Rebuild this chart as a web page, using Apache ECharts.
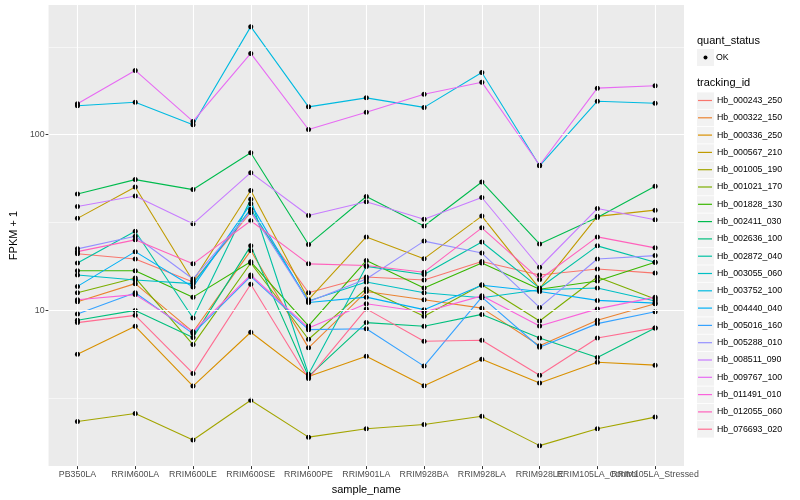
<!DOCTYPE html>
<html><head><meta charset="utf-8">
<script src="https://cdn.jsdelivr.net/npm/echarts@6/dist/echarts.min.js"></script>
<style>html,body{margin:0;padding:0;background:#fff}#c{width:800px;height:500px}</style>
</head><body><div id="c"></div>
<script>
const categories = ['PB350LA','RRIM600LA','RRIM600LE','RRIM600SE','RRIM600PE','RRIM901LA','RRIM928BA','RRIM928LA','RRIM928LE','RRIM105LA_Control','RRIM105LA_Stressed'];
const trackingIds = ['Hb_000243_250','Hb_000322_150','Hb_000336_250','Hb_000567_210','Hb_001005_190','Hb_001021_170','Hb_001828_130','Hb_002411_030','Hb_002636_100','Hb_002872_040','Hb_003055_060','Hb_003752_100','Hb_004440_040','Hb_005016_160','Hb_005288_010','Hb_008511_090','Hb_009767_100','Hb_011491_010','Hb_012055_060','Hb_076693_020'];
const yTickValues = [10, 100];
const yMinorValues = [3.162, 31.62, 316.2];

const s_000243_250 = [21.0, 19.6, 14.5, 36.1, 12.6, 15.5, 14.9, 19.0, 15.9, 17.2, 16.3];
const s_000322_150 = [11.2, 14.2, 7.54, 21.9, 6.12, 12.8, 11.5, 10.3, 6.29, 8.78, 10.9];
const s_000336_250 = [5.63, 8.12, 3.71, 7.51, 4.21, 5.49, 3.73, 5.28, 3.86, 5.07, 4.88];
const s_000567_210 = [33.4, 50.4, 14.7, 48.1, 11.5, 26.2, 19.7, 34.4, 13.3, 34.3, 37.2];
const s_001005_190 = [2.33, 2.59, 1.83, 3.08, 1.90, 2.12, 2.24, 2.50, 1.70, 2.12, 2.47];
const s_001021_170 = [12.6, 15.3, 6.39, 18.6, 6.85, 13.3, 9.25, 14.0, 8.71, 15.5, 11.6];
const s_001828_130 = [16.8, 16.8, 11.9, 18.9, 8.16, 19.2, 13.4, 18.6, 13.2, 14.7, 18.8];
const s_002411_030 = [46.0, 55.5, 48.7, 79.0, 23.7, 44.5, 30.2, 53.8, 23.9, 33.8, 50.9];
const s_002636_100 = [8.78, 10.0, 7.00, 23.3, 4.21, 8.52, 8.12, 9.49, 6.97, 5.40, 7.95];
const s_002872_040 = [18.6, 28.2, 9.06, 42.9, 4.33, 17.8, 16.0, 24.5, 13.4, 23.3, 18.8];
const s_003055_060 = [15.9, 14.9, 14.2, 37.7, 11.3, 14.5, 12.6, 11.8, 13.1, 13.4, 11.3];
const s_003752_100 = [146, 153, 114, 412, 144, 162, 143, 226, 66.5, 155, 151];
const s_004440_040 = [13.7, 21.6, 13.6, 40.4, 11.1, 11.9, 10.1, 13.9, 12.8, 11.4, 11.0];
const s_005016_160 = [9.54, 12.6, 7.38, 15.6, 7.77, 7.87, 4.82, 11.9, 6.17, 8.41, 9.83];
const s_005288_010 = [22.4, 26.4, 15.1, 36.7, 11.2, 15.1, 24.8, 21.2, 10.4, 19.6, 20.5];
const s_008511_090 = [39.0, 44.8, 31.1, 60.8, 34.7, 41.5, 33.0, 43.9, 17.6, 38.0, 32.8];
const s_009767_100 = [150, 232, 119, 290, 107, 134, 170, 199, 67.0, 184, 190];
const s_011491_010 = [11.5, 12.3, 7.57, 15.9, 7.95, 10.9, 9.80, 12.1, 8.16, 10.2, 11.9];
const s_012055_060 = [21.6, 25.2, 18.4, 32.4, 18.4, 18.0, 16.5, 29.5, 15.0, 26.2, 22.7];
const s_076693_020 = [8.52, 9.37, 4.38, 14.1, 4.10, 10.2, 6.67, 6.76, 4.28, 6.97, 7.95];

const seriesValues = [s_000243_250, s_000322_150, s_000336_250, s_000567_210, s_001005_190, s_001021_170, s_001828_130, s_002411_030, s_002636_100, s_002872_040, s_003055_060, s_003752_100, s_004440_040, s_005016_160, s_005288_010, s_008511_090, s_009767_100, s_011491_010, s_012055_060, s_076693_020];

const palette = ['#F8766D','#EA8331','#D89000','#C09B00','#A3A500','#7CAE00','#39B600','#00BB4E','#00BF7D','#00C1A3','#00BFC4','#00BAE0','#00B0F6','#35A2FF','#9590FF','#C77CFF','#E76BF3','#FA62DB','#FF62BC','#FF6C91'];

const FONT = 'Liberation Sans, Arial, sans-serif';
const chart = echarts.init(document.getElementById('c'), null, {renderer: 'canvas'});

const legendTop = 92, legendStep = 17.3;
const graphics = [
  {type:'text', left: 697, top: 35, style:{text:'quant_status', font:'11px ' + FONT, fill:'#000'}},
  {type:'rect', shape:{x:697, y:49, width:17, height:17}, style:{fill:'#F2F2F2'}},
  {type:'circle', shape:{cx:705.5, cy:57.5, r:2}, style:{fill:'#000'}},
  {type:'text', left: 716, top: 53, style:{text:'OK', font:'8.8px ' + FONT, fill:'#000'}},
  {type:'text', left: 697, top: 77, style:{text:'tracking_id', font:'11px ' + FONT, fill:'#000'}}
];
trackingIds.forEach((id, i) => {
  graphics.push({type:'rect', z: -1, shape:{x:697, y:legendTop + i*legendStep + 0.4, width:17, height:16.5}, style:{fill:'#F2F2F2'}});
});

const series = [{
  type:'line', name:'__grid', data: [], z: 1, silent: true,
  markLine: {
    silent: true, symbol: ['none','none'], label:{show:false}, animation:false,
    data: [
      ...yMinorValues.map(v => ({yAxis: v, lineStyle:{color:'#fff', width:0.55, type:'solid'}})),
      ...yTickValues.map(v => ({yAxis: v, lineStyle:{color:'#fff', width:1.1, type:'solid'}})),
      ...categories.map(c => ({xAxis: c, lineStyle:{color:'#fff', width:1.1, type:'solid'}}))
    ]
  }
}];
trackingIds.forEach((id, i) => {
  series.push({
    type:'line', name:id, data: seriesValues[i], z: 2,
    symbol:'circle', symbolSize: 5, showAllSymbol: true,
    itemStyle:{color:'#000'}, lineStyle:{color: palette[i], width: 1.1},
    emphasis:{disabled:true}, animation:false
  });
});

chart.setOption({
  backgroundColor:'#fff',
  animation:false,
  grid:{left:40, top:5, width:644, height:463, show:true, backgroundColor:'#EBEBEB', borderWidth:0, containLabel:false},
  xAxis:{
    type:'category', data: categories, boundaryGap:true,
    axisLine:{show:false},
    axisTick:{show:true, alignWithLabel:true, length:3, lineStyle:{color:'#333', width:1}},
    axisLabel:{interval:0, hideOverlap:false, fontSize:8.8, color:'#4D4D4D', margin:4, fontFamily:FONT},
    splitLine:{show:false},
    name:'sample_name', nameLocation:'middle', nameGap:15,
    nameTextStyle:{fontSize:11, color:'#000', fontFamily:FONT}
  },
  yAxis:{
    type:'log', logBase:10, min:1.30, max:547,
    axisLine:{show:false},
    axisTick:{show:true, length:3, lineStyle:{color:'#333', width:1}},
    axisLabel:{fontSize:8.8, color:'#4D4D4D', margin:4, fontFamily:FONT, showMinLabel:false, showMaxLabel:false,
      formatter: v => (yTickValues.indexOf(Math.round(v)) >= 0 ? String(Math.round(v)) : '')},
    splitLine:{show:false},
    minorTick:{show:false}, minorSplitLine:{show:false},
    name:'FPKM + 1', nameLocation:'middle', nameGap:23, nameRotate:90,
    nameTextStyle:{fontSize:11, color:'#000', fontFamily:FONT}
  },
  legend:{
    orient:'vertical', left:698, top:legendTop, padding:0, itemWidth:14, itemHeight:1.2, itemGap:0.3,
    icon:'rect', selectedMode:false,
    textStyle:{fontSize:8.8, color:'#000', fontFamily:FONT, lineHeight:17, height:17, verticalAlign:'middle'},
    data: trackingIds.map((id, i) => ({name:id, itemStyle:{color: palette[i]}}))
  },
  graphic: graphics,
  series: series
});
</script></body></html>
